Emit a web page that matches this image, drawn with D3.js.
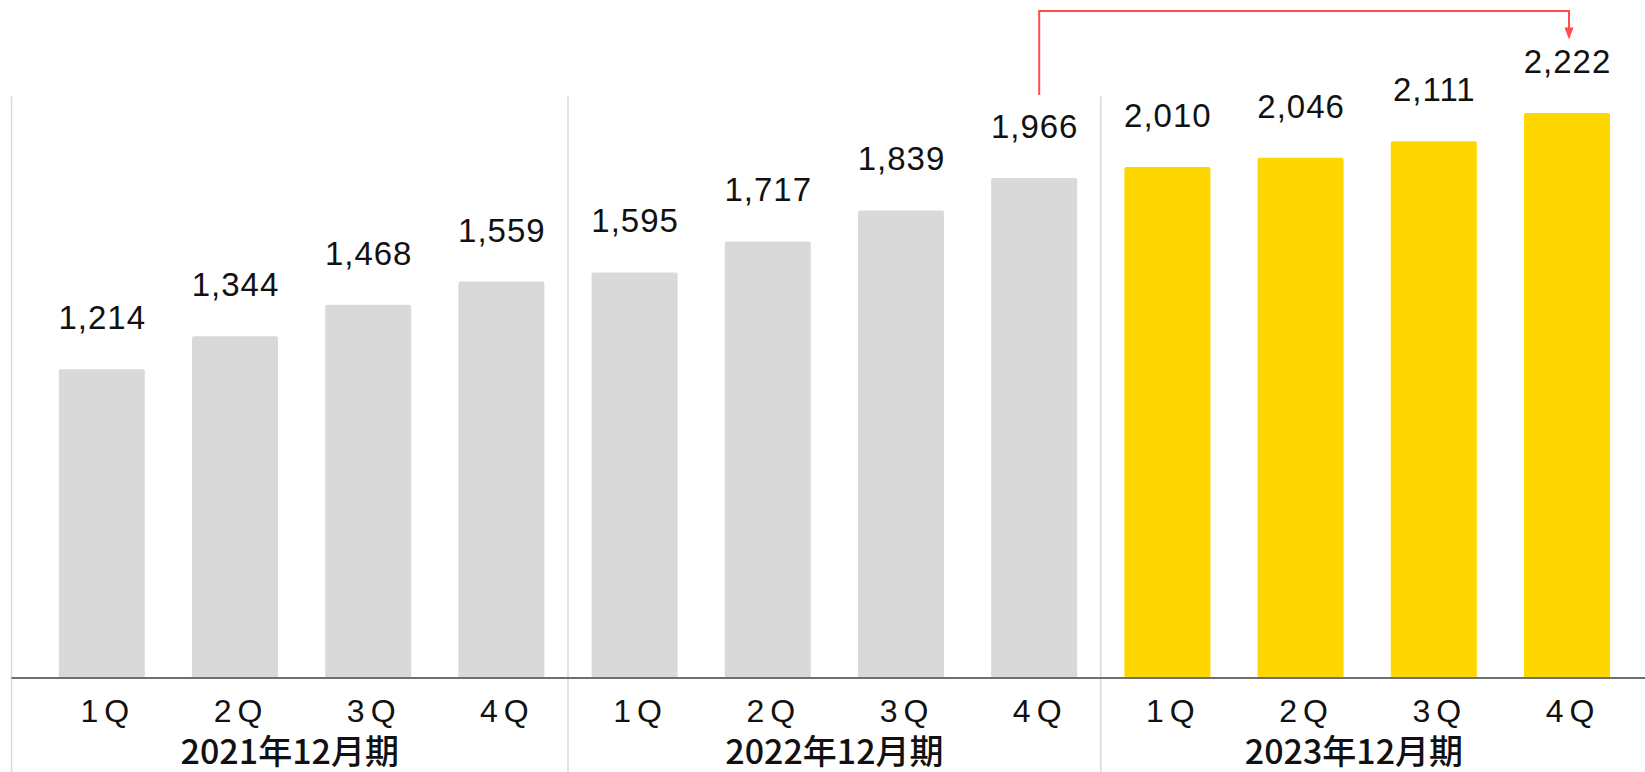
<!DOCTYPE html>
<meta charset="utf-8">
<script src="https://d3js.org/d3.v7.min.js"></script>
<style>
body {margin: 0; background: white;}
.val {font-family: "Liberation Sans", Arial, sans-serif; font-size: 33px; letter-spacing: 1px; fill: #111; text-anchor: middle;}
.qtr {font-family: "Liberation Sans", Arial, sans-serif; font-size: 32px; fill: #111; text-anchor: middle; letter-spacing: 6px;}
.year {font-family: "Noto Sans CJK JP", sans-serif; font-size: 34px; font-weight: 500; fill: #111; text-anchor: middle;}
</style>
<body>
<svg width=1645 height=772></svg>
<script>
// data
var years = ["2021年12月期", "2022年12月期", "2023年12月期"];
var quarters = ["1Q", "2Q", "3Q", "4Q"];
var values2021 = [1214, 1344, 1468, 1559];
var values2022 = [1595, 1717, 1839, 1966];
var values2023 = [2010, 2046, 2111, 2222];

var series = [values2021, values2022, values2023];
var rows = [];
years.forEach(function(y, gi) {
    quarters.forEach(function(q, qi) {
        rows.push({key: y + "-" + q, year: y, q: q, gi: gi, value: series[gi][qi]});
    });
});

var svg = d3.select("svg");
var plotLeft = 11.5, plotRight = 1607, baseY = 678;

var x = d3.scaleBand()
    .domain(rows.map(function(d) { return d.key; }))
    .range([35.2, 1633.6])
    .paddingInner(0.354)
    .paddingOuter(0.177);

var y = d3.scaleLinear().domain([0, 2500]).range([baseY, 42.3]);

var gap = x.step() - x.bandwidth();

// group dividers
var dividers = [plotLeft];
for (var g = 1; g < years.length; g++) {
    dividers.push(x(rows[g * 4].key) - gap / 2);
}
svg.append("g").selectAll("line").data(dividers).enter().append("line")
    .attr("x1", function(d) { return d; })
    .attr("x2", function(d) { return d; })
    .attr("y1", 96.5)
    .attr("y2", 772)
    .attr("stroke", "#d9d9d9")
    .attr("stroke-width", 1.5);

// bars
svg.append("g").selectAll("rect").data(rows).enter().append("rect")
    .attr("x", function(d) { return x(d.key); })
    .attr("y", function(d) { return y(d.value); })
    .attr("width", x.bandwidth())
    .attr("height", function(d) { return baseY - y(d.value); })
    .attr("rx", 2)
    .attr("fill", function(d) { return d.gi == 2 ? "#ffd700" : "#d9d9d9"; });

// axis line
svg.append("line")
    .attr("x1", plotLeft).attr("x2", 1645)
    .attr("y1", baseY).attr("y2", baseY)
    .attr("stroke", "#6f6f6f")
    .attr("stroke-width", 2);

// value labels
svg.append("g").selectAll("text").data(rows).enter().append("text")
    .attr("class", "val")
    .attr("x", function(d) { return x(d.key) + x.bandwidth() / 2 + 0.5; })
    .attr("y", function(d) { return y(d.value) - 40; })
    .text(function(d) { return d3.format(",")(d.value); });

// quarter labels
svg.append("g").selectAll("text").data(rows).enter().append("text")
    .attr("class", "qtr")
    .attr("x", function(d) { return x(d.key) + x.bandwidth() / 2 + 6; })
    .attr("y", 722)
    .text(function(d) { return d.q; });

// year labels
var bounds = dividers.concat([plotRight]);
svg.append("g").selectAll("text").data(years).enter().append("text")
    .attr("class", "year")
    .attr("x", function(d, i) { return (bounds[i] + bounds[i + 1]) / 2; })
    .attr("y", 764)
    .text(function(d) { return d; });

// arrow from 2022 4Q to 2023 4Q
var fromX = x(rows[7].key) + x.bandwidth() / 2 + 5;
var toX = x(rows[11].key) + x.bandwidth() / 2 + 2;
var topY = 11, tipY = 39.5;
svg.append("path")
    .attr("d", "M" + fromX + "," + 95 + "V" + topY + "H" + toX + "V" + (tipY - 10))
    .attr("fill", "none")
    .attr("stroke", "#ff4d4d")
    .attr("stroke-width", 2);
svg.append("path")
    .attr("d", "M" + (toX - 4.5) + "," + (tipY - 12) + "L" + (toX + 4.5) + "," + (tipY - 12) + "L" + toX + "," + tipY + "Z")
    .attr("fill", "#ff4d4d");
</script>
</body>
